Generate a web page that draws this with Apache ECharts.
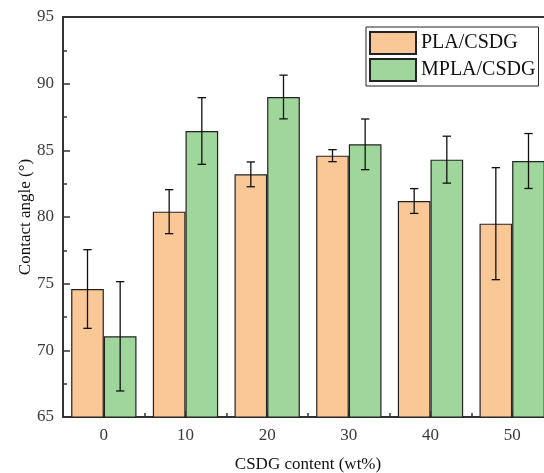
<!DOCTYPE html>
<html>
<head>
<meta charset="utf-8">
<style>
  html, body { margin: 0; padding: 0; background: #fff; }
  #chart { width: 544px; height: 473px; }
</style>
<script src="https://cdn.jsdelivr.net/npm/echarts@6/dist/echarts.min.js"></script>
</head>
<body>
<div id="chart"></div>
<script>
// CSDG loading (wt%) on the category axis
const categories = ['0', '10', '20', '30', '40', '50'];

// Mean contact angle (°) and standard deviation for each formulation
const plaMean  = [74.6, 80.4, 83.2, 84.6, 81.2, 79.5];
const plaErr   = [2.95, 1.65, 0.93, 0.45, 0.93, 4.2];
const mplaMean = [71.05, 86.45, 89.0, 85.45, 84.3, 84.2];
const mplaErr  = [4.1, 2.5, 1.64, 1.9, 1.76, 2.06];

const seriesNames = ['PLA/CSDG', 'MPLA/CSDG'];
const yTicks = { min: 65, max: 95, interval: 5 };

const FONT = '"Liberation Serif", "DejaVu Serif", serif';
const AXIS_COLOR = '#333';

function errorRows(mean, err) {
  return mean.map((m, i) => [i, m - err[i], m + err[i]]);
}

// Whisker with end caps, shifted to sit over its own bar within the group
function errorBarRenderer(shift) {
  return function (params, api) {
    const cat = api.value(0);
    const lo = api.coord([cat, api.value(1)]);
    const hi = api.coord([cat, api.value(2)]);
    const cw = api.size([1, 0])[0];
    const x = hi[0] + shift * cw;
    const cap = 4.2;
    const style = { stroke: '#111', lineWidth: 1.3 };
    return {
      type: 'group',
      children: [
        { type: 'line', shape: { x1: x, y1: hi[1], x2: x, y2: lo[1] }, style },
        { type: 'line', shape: { x1: x - cap, y1: hi[1], x2: x + cap, y2: hi[1] }, style },
        { type: 'line', shape: { x1: x - cap, y1: lo[1], x2: x + cap, y2: lo[1] }, style }
      ]
    };
  };
}

const chart = echarts.init(document.getElementById('chart'), null, { renderer: 'canvas' });

chart.setOption({
  animation: false,
  backgroundColor: '#fff',
  textStyle: { fontFamily: FONT },
  grid: { left: 63, top: 17, width: 490, height: 400, containLabel: false, outerBoundsMode: 'none' },
  legend: {
    orient: 'vertical',
    left: 366,
    top: 27,
    padding: [4, 3, 4, 3],
    itemWidth: 46,
    itemHeight: 22,
    itemGap: 3,
    icon: 'rect',
    borderColor: '#222',
    borderWidth: 1,
    data: seriesNames,
    textStyle: { fontFamily: FONT, fontSize: 20, color: '#111' }
  },
  xAxis: [
    {
      type: 'category',
      data: categories,
      name: 'CSDG content (wt%)',
      nameLocation: 'middle',
      nameGap: 39,
      nameMoveOverlap: false,
      nameTextStyle: { fontFamily: FONT, fontSize: 17, color: '#111' },
      axisLine: { lineStyle: { color: AXIS_COLOR, width: 2 } },
      axisTick: { show: true, inside: true, length: 4, alignWithLabel: false, lineStyle: { color: AXIS_COLOR, width: 1.5 } },
      axisLabel: { fontFamily: FONT, fontSize: 17, color: '#3a3a3a', margin: 10 },
      splitLine: { show: false }
    },
    {
      // centre ticks under each group
      type: 'category',
      data: categories,
      position: 'bottom',
      axisLine: { show: false },
      axisTick: { show: true, inside: true, length: 6, alignWithLabel: true, lineStyle: { color: AXIS_COLOR, width: 1.5 } },
      axisLabel: { show: false },
      splitLine: { show: false }
    },
    {
      // frame line along the top
      type: 'category',
      data: categories,
      position: 'top',
      axisLine: { lineStyle: { color: AXIS_COLOR, width: 2 } },
      axisTick: { show: false },
      axisLabel: { show: false },
      splitLine: { show: false }
    }
  ],
  yAxis: {
    type: 'value',
    min: yTicks.min,
    max: yTicks.max,
    interval: yTicks.interval,
    name: 'Contact angle (°)',
    nameLocation: 'middle',
    nameGap: 29,
    nameMoveOverlap: false,
    nameRotate: 90,
    nameTextStyle: { fontFamily: FONT, fontSize: 17, color: '#111' },
    axisLine: { show: true, lineStyle: { color: AXIS_COLOR, width: 2 } },
    axisTick: { show: true, inside: true, length: 7, lineStyle: { color: AXIS_COLOR, width: 1.5 } },
    minorTick: { show: true, splitNumber: 2, length: 4, lineStyle: { color: AXIS_COLOR, width: 1.5 } },
    axisLabel: { fontFamily: FONT, fontSize: 17, color: '#3a3a3a', margin: 9 },
    splitLine: { show: false }
  },
  series: [
    {
      name: seriesNames[0],
      type: 'bar',
      xAxisIndex: 0,
      data: plaMean,
      barGap: '0%',
      barCategoryGap: '20%',
      itemStyle: { color: '#FAC896', borderColor: '#222', borderWidth: 1.2 }
    },
    {
      name: seriesNames[1],
      type: 'bar',
      xAxisIndex: 0,
      data: mplaMean,
      barGap: '0%',
      barCategoryGap: '20%',
      itemStyle: { color: '#9FD69C', borderColor: '#222', borderWidth: 1.2 }
    },
    {
      type: 'custom',
      xAxisIndex: 0,
      renderItem: errorBarRenderer(-0.2),
      encode: { x: 0, y: [1, 2] },
      data: errorRows(plaMean, plaErr),
      z: 10
    },
    {
      type: 'custom',
      xAxisIndex: 0,
      renderItem: errorBarRenderer(0.2),
      encode: { x: 0, y: [1, 2] },
      data: errorRows(mplaMean, mplaErr),
      z: 10
    }
  ]
});
</script>
</body>
</html>
